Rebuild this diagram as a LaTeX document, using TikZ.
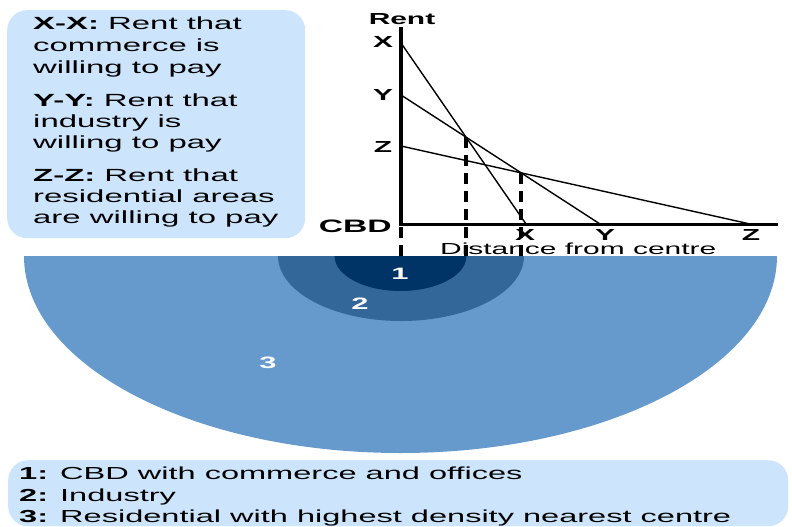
\documentclass[tikz,border=0pt]{standalone}
\usepackage{fontspec}
\setmainfont{Liberation Sans}
\usetikzlibrary{calc}
\definecolor{boxbg}{RGB}{204,229,252}
\definecolor{zoneA}{RGB}{0,51,102}
\definecolor{zoneB}{RGB}{51,102,153}
\definecolor{zoneC}{RGB}{102,153,204}
\newcommand{\sx}[1]{\scalebox{1.87}[1]{#1}}
\begin{document}
\begin{tikzpicture}[x=1pt,y=-1pt,
  legendbox/.style={fill=boxbg, rounded corners=20pt, draw=none, inner sep=0pt, anchor=north west},
  ltext/.style={anchor=base west, inner sep=0pt, font=\fontsize{17.6}{20}\selectfont},
  btext/.style={anchor=base west, inner sep=0pt, font=\fontsize{17.4}{20}\selectfont},
  axlabel/.style={anchor=base, inner sep=0pt, font=\fontsize{16}{18}\selectfont\bfseries},
  zonelabel/.style={inner sep=0pt, text=white, font=\fontsize{16.5}{19}\selectfont\bfseries},
  curve/.style={line width=1.4pt},
  guide/.style={line width=4pt, dash pattern=on 11pt off 7pt},
]
\useasboundingbox (0,0) rectangle (792,527);

% legend boxes
\node[legendbox, minimum width=298pt, minimum height=228pt] (keyA) at (7,10) {};
\node[legendbox, minimum width=780pt, minimum height=66pt] (keyB) at (8,460) {};

% top-left legend text
\node[ltext] (a1) at (33,30) {\sx{\textbf{X-X:} Rent that}};
\node[ltext] (a2) at (33,52) {\sx{commerce is}};
\node[ltext] (a3) at (33,74) {\sx{willing to pay}};
\node[ltext] (b1) at (33,106) {\sx{\textbf{Y-Y:} Rent that}};
\node[ltext] (b2) at (33,127) {\sx{industry is}};
\node[ltext] (b3) at (33,148) {\sx{willing to pay}};
\node[ltext] (c1) at (33,181) {\sx{\textbf{Z-Z:} Rent that}};
\node[ltext] (c2) at (33,202) {\sx{residential areas}};
\node[ltext] (c3) at (33,223) {\sx{are willing to pay}};

% bottom legend text
\node[btext] (k1) at (19,479) {\sx{\textbf{1:} CBD with commerce and offices}};
\node[btext] (k2) at (19,501) {\sx{\textbf{2:} Industry}};
\node[btext] (k3) at (19,522) {\sx{\textbf{3:} Residential with highest density nearest centre}};

% zones
\begin{scope}
  \clip (0,256) rectangle (792,527);
  \fill[zoneC] (400.5,256) ellipse [x radius=376.5, y radius=197];
  \fill[zoneB] (401,256) ellipse [x radius=123, y radius=65];
  \fill[zoneA] (400.5,256) ellipse [x radius=66, y radius=35];
\end{scope}
\node[zonelabel] (z1) at (400,274) {\sx{1}};
\node[zonelabel] (z2) at (360,304) {\sx{2}};
\node[zonelabel] (z3) at (268,363) {\sx{3}};

% axes
\coordinate (O) at (401,224);
\coordinate (top) at (401,27);
\coordinate (xend) at (778,224);
\coordinate (Ob) at (401,256);
\draw[line width=3pt] (399,224) -- (xend);
\draw[line width=4pt] (top) -- (O);

% rent curves
\coordinate (Xa) at (401,43);
\coordinate (Xb) at (526,224);
\coordinate (Ya) at (401,95);
\coordinate (Yb) at (600,224);
\coordinate (Za) at (401,146);
\coordinate (Zb) at (750,224);
\draw[curve] (Xa) -- (Xb);
\draw[curve] (Ya) -- (Yb);
\draw[curve] (Za) -- (Zb);
\coordinate (P) at (intersection of Xa--Xb and Ya--Yb);
\coordinate (Q) at (intersection of Ya--Yb and Za--Zb);

% labels
\node[axlabel] (rent) at (402,25) {\sx{Rent}};
\node[axlabel] (lx) at (383,48) {\sx{X}};
\node[axlabel] (ly) at (383,100) {\sx{Y}};
\node[axlabel] (lz) at (383,152) {\sx{Z}};
\node[anchor=base east, inner sep=0pt, font=\fontsize{18}{20}\selectfont\bfseries] (cbd) at (392,232) {\sx{CBD}};
\node[axlabel] (bx) at (525,240) {\sx{X}};
\node[axlabel] (by) at (605,240) {\sx{Y}};
\node[axlabel] (bz) at (751,240) {\sx{Z}};
\node[anchor=base west, inner sep=0pt, font=\fontsize{16}{18}\selectfont] (dist) at (440,254) {\sx{Distance from centre}};

% dashed guides
\draw[guide, dash phase=15pt] (O) -- (Ob);
\draw[guide] (P) -- (P |- Ob);
\draw[guide] (Q) -- (Q |- Ob);
\end{tikzpicture}
\end{document}
